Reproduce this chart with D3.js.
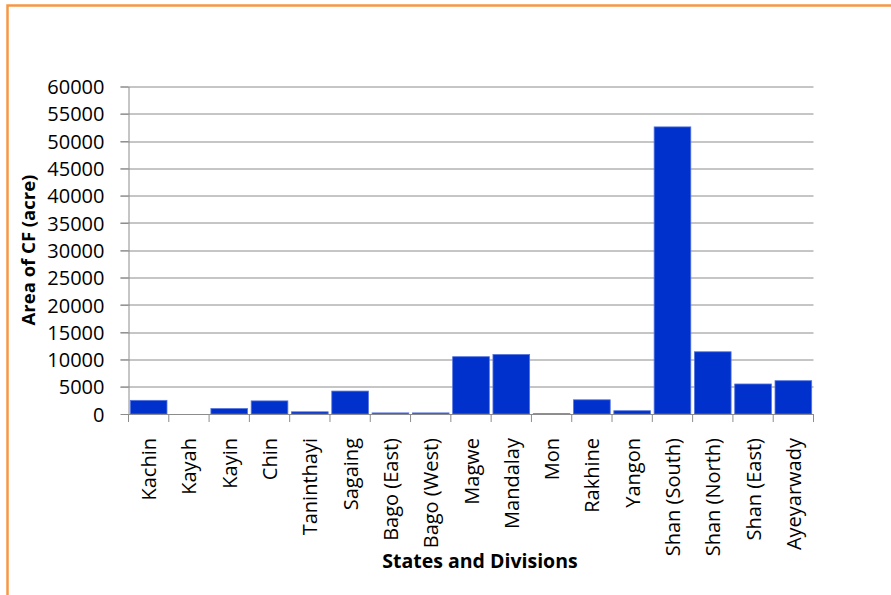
<!DOCTYPE html>
<html>
<head>
<meta charset="utf-8">
<script src="https://cdn.jsdelivr.net/npm/d3@7"></script>
<style>
  body { margin: 0; background: #fff; }
  text { font-family: "Open Sans", "Liberation Sans", sans-serif; fill: #000; }
</style>
</head>
<body>
<div id="chart"></div>
<script>
// Data
var states = ["Kachin", "Kayah", "Kayin", "Chin", "Taninthayi", "Sagaing", "Bago (East)",
  "Bago (West)", "Magwe", "Mandalay", "Mon", "Rakhine", "Yangon", "Shan (South)",
  "Shan (North)", "Shan (East)", "Ayeyarwady"];
var areaCF = [2500, 0, 1000, 2400, 400, 4200, 200, 200, 10500, 10900, 50, 2600, 600,
  52600, 11400, 5500, 6100];
var yTicks = [0, 5000, 10000, 15000, 20000, 25000, 30000, 35000, 40000, 45000, 50000, 55000, 60000];

var svgWidth = 891;
var svgHeight = 595;

var margin = { top: 86.5, left: 128.5 };
var width = 685;
var height = 327.5;

var svg = d3.select("#chart")
  .append("svg")
  .attr("width", svgWidth)
  .attr("height", svgHeight);

// orange frame (chart area border, cut off at right/bottom)
svg.append("rect")
  .attr("x", 7.5)
  .attr("y", 5.5)
  .attr("width", 1000)
  .attr("height", 1000)
  .attr("fill", "none")
  .attr("stroke", "#F79646")
  .attr("stroke-width", 2.5);

var chartGroup = svg.append("g")
  .attr("transform", `translate(${margin.left}, ${margin.top})`);

var xBand = d3.scaleBand()
  .domain(states)
  .range([0, width])
  .paddingInner(0.09)
  .paddingOuter(0.045);

var yLinear = d3.scaleLinear()
  .domain([0, 60000])
  .range([height, 0]);

// gridlines
chartGroup.append("g")
  .selectAll("line")
  .data(yTicks.slice(1))
  .enter()
  .append("line")
  .attr("x1", -8)
  .attr("x2", width)
  .attr("y1", d => Math.round(yLinear(d)) + 0.5)
  .attr("y2", d => Math.round(yLinear(d)) + 0.5)
  .attr("stroke", "#8c8c8c")
  .attr("stroke-width", 1);

// y axis
var leftAxis = d3.axisLeft(yLinear)
  .tickValues(yTicks)
  .tickFormat(d3.format("d"))
  .tickSize(8)
  .tickPadding(16)
  .tickSizeOuter(0);

var yAxis = chartGroup.append("g").call(leftAxis);
yAxis.select(".domain").attr("stroke", "#8c8c8c");
yAxis.selectAll(".tick line").attr("stroke", "#8c8c8c");
yAxis.selectAll(".tick text")
  .attr("font-family", "Open Sans, sans-serif")
  .attr("font-size", 20)
  .attr("fill", "#000")
  .attr("dy", "0.36em");

// bars
chartGroup.selectAll(".bar")
  .data(areaCF)
  .enter()
  .append("rect")
  .attr("class", "bar")
  .attr("x", (d, i) => xBand(states[i]))
  .attr("width", xBand.bandwidth())
  .attr("y", d => yLinear(d))
  .attr("height", d => height - yLinear(d))
  .attr("fill", "#0131CC")
  .attr("stroke", "#5574de")
  .attr("stroke-width", 0.8);

// x axis: ticks on category boundaries
var xEdges = d3.range(states.length + 1).map(i => i * width / states.length);

var xAxis = chartGroup.append("g")
  .attr("transform", `translate(0, ${height})`);

xAxis.append("line")
  .attr("x1", 0)
  .attr("x2", width)
  .attr("y1", 0.5)
  .attr("y2", 0.5)
  .attr("stroke", "#8c8c8c");

xAxis.selectAll(".xtick")
  .data(xEdges)
  .enter()
  .append("line")
  .attr("class", "xtick")
  .attr("x1", d => d)
  .attr("x2", d => d)
  .attr("y1", 0)
  .attr("y2", 8)
  .attr("stroke", "#8c8c8c");

xAxis.selectAll(".xlabel")
  .data(states)
  .enter()
  .append("text")
  .attr("class", "xlabel")
  .attr("transform", d => `translate(${xBand(d) + xBand.bandwidth() / 2 + 7.5}, 24) rotate(-90)`)
  .attr("text-anchor", "end")
  .attr("font-size", 20)
  .text(d => d);

// axis titles
svg.append("text")
  .attr("x", 480)
  .attr("y", 568)
  .attr("text-anchor", "middle")
  .attr("font-size", 19.5)
  .attr("font-weight", "bold")
  .text("States and Divisions");

svg.append("text")
  .attr("transform", "translate(35, 250) rotate(-90)")
  .attr("text-anchor", "middle")
  .attr("font-size", 18.5)
  .attr("font-weight", "bold")
  .text("Area of CF (acre)");
</script>
</body>
</html>
